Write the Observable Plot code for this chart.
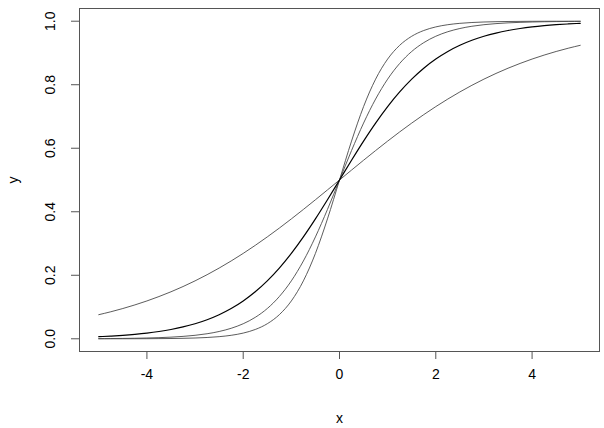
<!DOCTYPE html>
<html>
<head>
<meta charset="utf-8">
<script src="https://cdn.jsdelivr.net/npm/d3@7"></script>
<script src="https://cdn.jsdelivr.net/npm/@observablehq/plot@0.6"></script>
<style>
html,body{margin:0;padding:0;background:#fff;}
#chart{width:604px;height:428px;}
</style>
</head>
<body>
<div id="chart"></div>
<script>
const xs = [-5,-4.75,-4.5,-4.25,-4,-3.75,-3.5,-3.25,-3,-2.75,-2.5,-2.25,-2,-1.75,-1.5,-1.25,-1,-0.75,-0.5,-0.25,0,0.25,0.5,0.75,1,1.25,1.5,1.75,2,2.25,2.5,2.75,3,3.25,3.5,3.75,4,4.25,4.5,4.75,5];
const yA = [0.0759,0.0851,0.0953,0.1067,0.1192,0.1330,0.1480,0.1645,0.1824,0.2018,0.2227,0.2451,0.2689,0.2942,0.3208,0.3486,0.3775,0.4073,0.4378,0.4688,0.5,0.5312,0.5622,0.5927,0.6225,0.6514,0.6792,0.7058,0.7311,0.7549,0.7773,0.7982,0.8176,0.8355,0.8520,0.8670,0.8808,0.8933,0.9047,0.9149,0.9241];
const yB = [0.0067,0.0086,0.0110,0.0141,0.0180,0.0230,0.0293,0.0373,0.0474,0.0601,0.0759,0.0953,0.1192,0.1480,0.1824,0.2227,0.2689,0.3208,0.3775,0.4378,0.5,0.5622,0.6225,0.6792,0.7311,0.7773,0.8176,0.8520,0.8808,0.9047,0.9241,0.9399,0.9526,0.9627,0.9707,0.9770,0.9820,0.9859,0.9890,0.9914,0.9933];
const yC = [0.0006,0.0008,0.0012,0.0017,0.0025,0.0036,0.0052,0.0076,0.0110,0.0159,0.0230,0.0331,0.0474,0.0675,0.0953,0.1330,0.1824,0.2451,0.3208,0.4073,0.5,0.5927,0.6792,0.7549,0.8176,0.8670,0.9047,0.9325,0.9526,0.9669,0.9770,0.9841,0.9890,0.9924,0.9948,0.9964,0.9975,0.9983,0.9988,0.9992,0.9994];
const yD = [0.0000,0.0001,0.0001,0.0002,0.0003,0.0006,0.0009,0.0015,0.0025,0.0041,0.0067,0.0110,0.0180,0.0293,0.0474,0.0759,0.1192,0.1824,0.2689,0.3775,0.5,0.6225,0.7311,0.8176,0.8808,0.9241,0.9526,0.9707,0.9820,0.9890,0.9933,0.9959,0.9975,0.9985,0.9991,0.9994,0.9997,0.9998,0.9999,0.9999,1.0000];
const xTicks = [-4,-2,0,2,4];
const yTicks = [0,0.2,0.4,0.6,0.8,1.0];
const yTickLabels = ["0.0","0.2","0.4","0.6","0.8","1.0"];

const series = [
  {y: yA, stroke: "#4a4a4a", w: 0.9},
  {y: yC, stroke: "#4a4a4a", w: 0.9},
  {y: yD, stroke: "#4a4a4a", w: 0.9},
  {y: yB, stroke: "#000", w: 1.2}
];

const font = "'Liberation Sans', Arial, Helvetica, sans-serif";
const xMin = -5.4, xMax = 5.4, yMin = -0.04, yMax = 1.04;

const marks = [];
for (const s of series) {
  const data = xs.map((x, i) => ({x, y: s.y[i]}));
  marks.push(Plot.line(data, {x: "x", y: "y", stroke: s.stroke, strokeWidth: s.w, curve: "monotone-x"}));
}
marks.push(Plot.frame({stroke: "#555", strokeWidth: 1}));
// x axis
marks.push(Plot.ruleY([yMin], {x1: xTicks[0], x2: xTicks[xTicks.length-1], stroke: "#555"}));
marks.push(Plot.axisX({ticks: xTicks, tickSize: 8, tickPadding: 10, fontSize: 14, anchor: "bottom", stroke: "#555", fill: "#000", label: null, tickFormat: d => (d < 0 ? "-" + Math.abs(d) : String(d))}));
// y axis
marks.push(Plot.axisY({ticks: yTicks, tickSize: 8, anchor: "left", stroke: "#555", tickFormat: () => "", label: null}));
marks.push(Plot.text(yTicks.map((v, i) => ({v, t: yTickLabels[i]})), {x: () => xMin, y: "v", text: "t", rotate: -90, dx: -29, fontSize: 14, fill: "#000", textAnchor: "middle", lineAnchor: "middle"}));
// axis titles
marks.push(Plot.text(["x"], {x: () => 0, y: () => yMin, text: d => d, dy: 67, fontSize: 14, fill: "#000", lineAnchor: "middle"}));
marks.push(Plot.text(["y"], {x: () => xMin, y: () => 0.5, text: d => d, dx: -66, rotate: -90, fontSize: 14, fill: "#000", lineAnchor: "middle"}));

const chart = Plot.plot({
  width: 604,
  height: 428,
  marginLeft: 79,
  marginRight: 5,
  marginTop: 8,
  marginBottom: 77,
  style: {fontFamily: font, background: "#fff", overflow: "visible"},
  x: {domain: [xMin, xMax], axis: null},
  y: {domain: [yMin, yMax], axis: null},
  marks
});
document.getElementById("chart").appendChild(chart);
</script>
</body>
</html>
